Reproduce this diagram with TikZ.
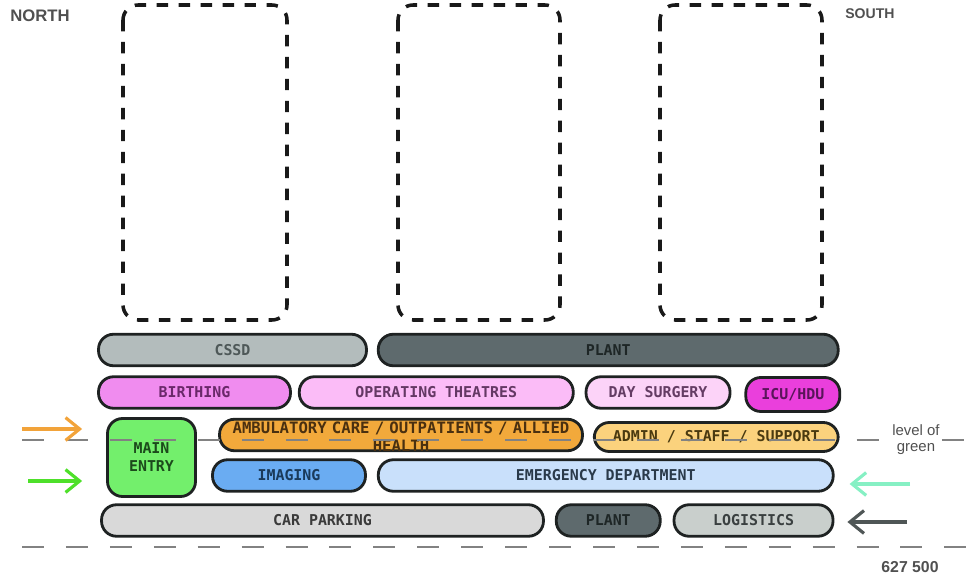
\documentclass[tikz,border=0pt]{standalone}
\usepackage{fontspec}
\setmainfont{Liberation Sans}
\newfontfamily\pillfont{DejaVu Sans Mono}
\usepackage{xcolor}
\usetikzlibrary{arrows.meta, positioning}
\definecolor{pilledge}{RGB}{30,34,34}
\definecolor{cssdfill}{RGB}{179,188,188}
\definecolor{cssdtext}{RGB}{78,88,88}
\definecolor{plantfill}{RGB}{94,106,109}
\definecolor{planttext}{RGB}{30,38,38}
\definecolor{birthfill}{RGB}{240,140,239}
\definecolor{birthtext}{RGB}{106,40,106}
\definecolor{theatrefill}{RGB}{251,188,247}
\definecolor{theatretext}{RGB}{100,56,100}
\definecolor{dayfill}{RGB}{252,211,248}
\definecolor{daytext}{RGB}{100,60,100}
\definecolor{icufill}{RGB}{234,63,220}
\definecolor{icutext}{RGB}{90,20,90}
\definecolor{entryfill}{RGB}{115,239,108}
\definecolor{entrytext}{RGB}{28,74,28}
\definecolor{ambufill}{RGB}{242,169,59}
\definecolor{ambutext}{RGB}{74,48,16}
\definecolor{adminfill}{RGB}{251,210,125}
\definecolor{admintext}{RGB}{74,58,16}
\definecolor{imagingfill}{RGB}{106,172,242}
\definecolor{imagingtext}{RGB}{26,58,90}
\definecolor{emergfill}{RGB}{201,224,251}
\definecolor{emergtext}{RGB}{42,58,74}
\definecolor{parkfill}{RGB}{217,217,217}
\definecolor{parktext}{RGB}{58,58,58}
\definecolor{logfill}{RGB}{201,207,204}
\definecolor{logtext}{RGB}{58,64,64}
\definecolor{labelgray}{RGB}{80,80,80}
\definecolor{lineg}{RGB}{130,130,130}
\definecolor{orangearrow}{RGB}{242,163,58}
\definecolor{greenarrow}{RGB}{78,224,42}
\definecolor{tealarrow}{RGB}{134,240,196}
\definecolor{greyarrow}{RGB}{79,86,86}
\tikzset{
  pill/.style 2 args={draw=pilledge,line width=1.6pt,rounded corners=0.3cm,fill=#1,text=#2,
    minimum height=0.63cm,inner sep=0pt,font=\pillfont\bfseries\fontsize{8.5}{10.2}\selectfont},
  zone/.style={draw=black!90,line width=2pt,dash pattern=on 6.5pt off 6pt,rounded corners=0.3cm},
  groundline/.style={draw=lineg,line width=1.3pt,dash pattern=on 12.5pt off 12.5pt},
  flow/.style={-{Straight Barb[length=8pt,width=13pt]},line width=1.8pt}
}

\begin{document}
\begin{tikzpicture}[x=0.02cm,y=-0.02cm]
  \useasboundingbox (0,0) rectangle (975,581);

  % future expansion zones
  \draw[zone] (123,5) rectangle (287,320);
  \draw[zone] (398,5) rectangle (560,320);
  \draw[zone] (660,5) rectangle (822,320);

  \node[anchor=west,inner sep=0pt,text=labelgray,font=\bfseries\fontsize{9.5}{11}\selectfont] (north) at (10,16) {NORTH};
  \node[anchor=west,inner sep=0pt,text=labelgray,font=\bfseries\fontsize{8}{10}\selectfont] (south) at (845,14) {SOUTH};

  % departments, top to bottom
  \node[pill={cssdfill}{cssdtext},minimum width=5.36cm] (cssd) at (232.5,350) {CSSD};
  \node[pill={plantfill}{planttext},minimum width=9.2cm,right=0.18cm of cssd] (planttop) {PLANT};

  \node[pill={birthfill}{birthtext},minimum width=3.84cm] (birthing) at (194.5,392.5) {BIRTHING};
  \node[pill={theatrefill}{theatretext},minimum width=5.48cm,right=0.12cm of birthing] (theatres) {OPERATING THEATRES};
  \node[pill={dayfill}{daytext},minimum width=2.88cm,right=0.2cm of theatres] (daysurgery) {DAY SURGERY};
  \node[pill={icufill}{icutext},minimum width=1.88cm,minimum height=0.68cm,right=0.26cm of daysurgery,yshift=-0.04cm] (icu) {ICU/HDU};

  \node[pill={entryfill}{entrytext},minimum width=1.76cm,minimum height=1.56cm,align=center] (mainentry) at (151.5,457.5) {MAIN\\ENTRY};
  \node[pill={ambufill}{ambutext},minimum width=7.26cm,text width=7.26cm,align=center,
        font=\pillfont\bfseries\fontsize{8.9}{10.2}\selectfont,
        text height=4pt,text depth=6pt] (ambulatory) at (401,435) {AMBULATORY CARE / OUTPATIENTS / ALLIED\\HEALTH};
  \node[pill={adminfill}{admintext},minimum width=4.88cm,minimum height=0.58cm,right=0.18cm of ambulatory,yshift=-0.04cm] (admin) {ADMIN / STAFF / SUPPORT};

  \node[pill={imagingfill}{imagingtext},minimum width=3.06cm] (imaging) at (289,475.5) {IMAGING};
  \node[pill={emergfill}{emergtext},minimum width=9.1cm,right=0.2cm of imaging] (emergency) {EMERGENCY DEPARTMENT};

  \node[pill={parkfill}{parktext},minimum width=8.84cm] (carparking) at (322.5,520.5) {CAR PARKING};
  \node[pill={plantfill}{planttext},minimum width=2.08cm,right=0.2cm of carparking] (plantlow) {PLANT};
  \node[pill={logfill}{logtext},minimum width=3.18cm,right=0.22cm of plantlow] (logistics) {LOGISTICS};

  % ground levels
  \node[align=center,inner sep=1pt,text=labelgray,font=\fontsize{8.5}{9}\selectfont] (levelgreen) at (916,440) {level of\\green};
  \coordinate (levelleft) at (22,440);
  \coordinate (levelright) at (975,440);
  \draw[groundline] (levelleft) -- (levelgreen.west);
  \draw[groundline] (levelgreen.east) -- (levelright);
  \coordinate (groundleft) at (22,547);
  \coordinate (groundright) at (975,547);
  \draw[groundline] (groundleft) -- (groundright);

  \node[text=labelgray,inner sep=0pt,font=\bfseries\fontsize{9}{10}\selectfont] (scalenote) at (910,567) {627 500};

  % access arrows
  \coordinate (orangein) at (22,429);
  \coordinate (greenin) at (28,481);
  \coordinate (tealin) at (910,484);
  \coordinate (greyin) at (907,522);
  \draw[flow,orangearrow,shorten >=0.48cm] (orangein) -- (orangein -| mainentry.west);
  \draw[flow,greenarrow,shorten >=0.48cm] (greenin) -- (greenin -| mainentry.west);
  \draw[flow,tealarrow,shorten >=0.3cm] (tealin) -- (tealin -| emergency.east);
  \draw[flow,greyarrow,shorten >=0.26cm] (greyin) -- (greyin -| logistics.east);
\end{tikzpicture}
\end{document}
